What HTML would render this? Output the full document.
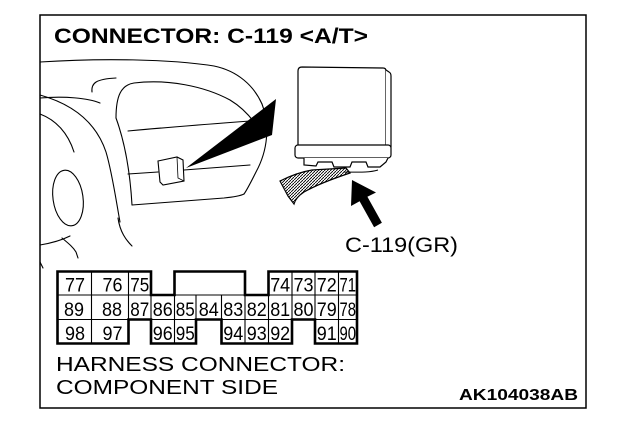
<!DOCTYPE html>
<html><head><meta charset="utf-8"><style>
html,body{margin:0;padding:0;background:#fff;}
svg{display:block;}
text{font-family:"Liberation Sans",Arial,sans-serif;fill:#000;}
</style></head><body>
<svg width="624" height="434" viewBox="0 0 624 434" xmlns="http://www.w3.org/2000/svg">
<defs>
<pattern id="hatch" width="3" height="3" patternUnits="userSpaceOnUse">
<path d="M0,3 L3,0" stroke="#000" stroke-width="0.9"/>
</pattern>
</defs>
<rect x="0" y="0" width="624" height="434" fill="#fff"/>
<!-- frame -->
<rect x="40" y="15" width="546" height="393" fill="none" stroke="#000" stroke-width="1.5"/>

<!-- title -->
<text x="54" y="43" font-size="21" font-weight="bold" textLength="314" lengthAdjust="spacingAndGlyphs">CONNECTOR: C-119 &lt;A/T&gt;</text>

<!-- dashboard line art -->
<g fill="none" stroke="#000" stroke-width="1.1" stroke-linecap="round">
<path d="M40,62 C100,58 170,59 214,66 C238,71 254,86 262,104"/>
<path d="M262,104 C270,125 268,150 256,172 C251,182 247,190 244,194"/>
<path d="M116,118 C116,96 121,85 134,83 C168,79 204,86 230,100 C240,106 248,114 254,122"/>
<path d="M116,118 C124,140 130,170 132,205"/>
<path d="M128,131 C170,127 210,124 250,121"/>
<path d="M128,174 L158,172"/>
<path d="M184,170 L250,165"/>
<path d="M132,205 L224,198 C234,197 240,196 244,194"/>
<path d="M40,95 C72,104 96,122 106,152 C112,172 116,200 120,222"/>
<path d="M118,218 C120,232 126,240 132,246"/>
<path d="M92,92 C91,83 96,79 116,78"/>
<path d="M40,98 C65,96 88,98 100,103"/>
<path d="M40,114 C56,120 68,133 74,152"/>
<ellipse cx="68" cy="198" rx="15" ry="28" transform="rotate(-8 68 198)"/>
<path d="M40,245 C52,243 62,240 70,236"/>
<path d="M62,238 C68,243 73,247 76,252 L78,258"/>
<path d="M40,262 L43,268"/>
</g>

<!-- small connector on dash -->
<polygon points="158,161 177,157 183,160 184,181 163,185 160,182" fill="#fff" stroke="#000" stroke-width="1.1"/>
<path d="M177,157 L178,178 L184,181" fill="none" stroke="#000" stroke-width="0.8"/>

<!-- black wedge -->
<polygon points="186,168 276,99 272,135" fill="#000"/>

<!-- module -->
<g stroke="#000" stroke-width="1.2" fill="#fff">
<path d="M302,67 L383,68 Q386,68 386,71 L386,147 L298,147 L298,71 Q298,67 302,67 Z"/>
<path d="M386,70 L389,72 Q391,73 391,76 L391,147 L386,147" />
<rect x="295" y="145" width="96" height="13" rx="3"/>
<path d="M304,158 L304,165 L316,166 L318,162 L332,162 L334,167 L350,167 L352,162 L366,162 L368,167 L380,167 L386,162 L388,158"/>
<path d="M280,181 C290,176 300,172 312,170 L346,168 L350,173 C335,178 318,184 304,192 C298,196 295,200 294,204 L288,196 Z" fill="url(#hatch)"/>
</g>
<path d="M344,172 C356,172 368,173 378,170" fill="none" stroke="#000" stroke-width="1"/>

<!-- arrow -->
<polygon points="352,180 376,192.5 367.4,196.8 381.9,222.8 374.1,227.2 359.6,201.2 351,206" fill="#000"/>

<text x="345" y="252" font-size="21" textLength="113" lengthAdjust="spacingAndGlyphs">C-119(GR)</text>

<!-- connector grid: thin lines -->
<g stroke="#000" stroke-width="1.1" fill="none">
<line x1="57.5" y1="295" x2="357" y2="295"/>
<line x1="57.5" y1="319.5" x2="357" y2="319.5"/>
<line x1="91.5" y1="271.5" x2="91.5" y2="343.5"/>
<line x1="128.5" y1="271.5" x2="128.5" y2="343.5"/>
<line x1="151" y1="295" x2="151" y2="319.5"/>
<line x1="174.5" y1="295" x2="174.5" y2="343.5"/>
<line x1="196" y1="295" x2="196" y2="319.5"/>
<line x1="221.5" y1="295" x2="221.5" y2="319.5"/>
<line x1="245" y1="295" x2="245" y2="343.5"/>
<line x1="268.5" y1="295" x2="268.5" y2="343.5"/>
<line x1="292" y1="271.5" x2="292" y2="319.5"/>
<line x1="315" y1="271.5" x2="315" y2="319.5"/>
<line x1="338.5" y1="271.5" x2="338.5" y2="343.5"/>
</g>
<!-- thick outline -->
<path d="M57.5,271.5 L151,271.5 L151,295 L174.5,295 L174.5,271.5 L245,271.5 L245,295 L268.5,295 L268.5,271.5 L357,271.5 L357,343.5 L315,343.5 L315,319.5 L292,319.5 L292,343.5 L221.5,343.5 L221.5,319.5 L196,319.5 L196,343.5 L151,343.5 L151,319.5 L128.5,319.5 L128.5,343.5 L57.5,343.5 Z" fill="none" stroke="#000" stroke-width="2.6" stroke-linejoin="miter"/>

<!-- numbers -->
<g font-size="19" text-anchor="middle">
<text x="75" y="291.5" textLength="20" lengthAdjust="spacingAndGlyphs">77</text>
<text x="112.5" y="291.5" textLength="20" lengthAdjust="spacingAndGlyphs">76</text>
<text x="139.8" y="291.5" textLength="19" lengthAdjust="spacingAndGlyphs">75</text>
<text x="280.2" y="291.5" textLength="20" lengthAdjust="spacingAndGlyphs">74</text>
<text x="303.5" y="291.5" textLength="20" lengthAdjust="spacingAndGlyphs">73</text>
<text x="326.8" y="291.5" textLength="20" lengthAdjust="spacingAndGlyphs">72</text>
<text x="347.8" y="291.5" textLength="16.5" lengthAdjust="spacingAndGlyphs">71</text>

<text x="74" y="316" textLength="20" lengthAdjust="spacingAndGlyphs">89</text>
<text x="112" y="316" textLength="20" lengthAdjust="spacingAndGlyphs">88</text>
<text x="139.8" y="316" textLength="19" lengthAdjust="spacingAndGlyphs">87</text>
<text x="162.8" y="316" textLength="20" lengthAdjust="spacingAndGlyphs">86</text>
<text x="185.3" y="316" textLength="19" lengthAdjust="spacingAndGlyphs">85</text>
<text x="208.8" y="316" textLength="20" lengthAdjust="spacingAndGlyphs">84</text>
<text x="233.3" y="316" textLength="20" lengthAdjust="spacingAndGlyphs">83</text>
<text x="256.8" y="316" textLength="20" lengthAdjust="spacingAndGlyphs">82</text>
<text x="280.2" y="316" textLength="20" lengthAdjust="spacingAndGlyphs">81</text>
<text x="303.5" y="316" textLength="20" lengthAdjust="spacingAndGlyphs">80</text>
<text x="326.8" y="316" textLength="20" lengthAdjust="spacingAndGlyphs">79</text>
<text x="347.8" y="316" textLength="16.5" lengthAdjust="spacingAndGlyphs">78</text>

<text x="75" y="340" textLength="20" lengthAdjust="spacingAndGlyphs">98</text>
<text x="112.5" y="340" textLength="20" lengthAdjust="spacingAndGlyphs">97</text>
<text x="162.8" y="340" textLength="20" lengthAdjust="spacingAndGlyphs">96</text>
<text x="185.3" y="340" textLength="19" lengthAdjust="spacingAndGlyphs">95</text>
<text x="233.3" y="340" textLength="20" lengthAdjust="spacingAndGlyphs">94</text>
<text x="256.8" y="340" textLength="20" lengthAdjust="spacingAndGlyphs">93</text>
<text x="280.2" y="340" textLength="20" lengthAdjust="spacingAndGlyphs">92</text>
<text x="326.8" y="340" textLength="20" lengthAdjust="spacingAndGlyphs">91</text>
<text x="347.8" y="340" textLength="16.5" lengthAdjust="spacingAndGlyphs">90</text>
</g>

<!-- bottom labels -->
<text x="56" y="371" font-size="20" textLength="289" lengthAdjust="spacingAndGlyphs">HARNESS CONNECTOR:</text>
<text x="56" y="394" font-size="20" textLength="222" lengthAdjust="spacingAndGlyphs">COMPONENT SIDE</text>
<text x="459" y="400" font-size="16" font-weight="bold" textLength="119" lengthAdjust="spacingAndGlyphs">AK104038AB</text>
</svg>
</body></html>
